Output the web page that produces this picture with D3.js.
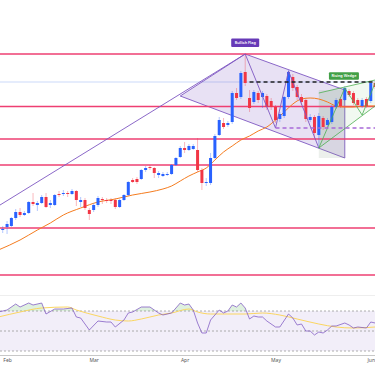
<!DOCTYPE html>
<html>
<head>
<meta charset="utf-8">
<script src="https://cdn.jsdelivr.net/npm/d3@7/dist/d3.min.js"></script>
<style>
  html, body { margin: 0; padding: 0; background: #fff; overflow: hidden; }
  text { font-family: "Noto Sans", Roboto, sans-serif; }
</style>
</head>
<body>
<svg id="chart" width="375" height="366"></svg>
<script>
// month ticks (candle index where each month starts)
const months = ["Feb", "Mar", "Apr", "May", "Jun"];
const monthIdx = [2, 22, 43, 64, 86];

// daily candles: [open, high, low, close]
const ohlc = [
  [62, 74, 60, 72], [70, 74, 67, 71], [73, 79, 66, 76], [74, 83, 73, 82], [82, 91, 80, 88],
  [88, 92, 83, 85], [85, 89, 84, 87], [87, 99, 86, 98], [98, 107, 94, 96], [95, 99, 89, 97],
  [97, 105, 96, 103], [103, 107, 92, 93], [95, 100, 92, 97], [95, 106, 94, 105], [106, 109, 103, 105],
  [106, 110, 104, 107], [107, 109, 103, 106], [106, 111, 105, 109], [109, 110, 94, 100], [98, 103, 93, 100],
  [100, 102, 90, 92], [90, 92, 80, 86], [90, 97, 88, 95], [95, 104, 93, 102], [101, 103, 96, 100],
  [100, 102, 97, 99], [100, 102, 96, 99], [100, 102, 91, 93], [93, 101, 92, 100], [100, 106, 99, 105],
  [105, 119, 104, 118], [120, 122, 117, 118], [121, 123, 116, 118], [121, 131, 120, 130], [130, 134, 128, 132],
  [133, 135, 130, 132], [132, 133, 122, 127], [125, 129, 122, 127], [124, 128, 123, 126], [125, 128, 124, 126],
  [126, 136, 125, 135], [135, 143, 134, 142], [143, 154, 142, 152], [152, 158, 147, 150], [150, 156, 149, 154],
  [151, 156, 150, 154], [150, 162, 128, 130], [130, 132, 110, 117], [117, 122, 114, 118], [117, 147, 115, 142],
  [142, 166, 141, 164], [165, 183, 164, 180], [177, 182, 171, 173], [175, 179, 173, 177], [178, 209, 176, 207],
  [207, 212, 200, 202], [203, 229, 201, 227], [228, 246, 214, 217], [202, 210, 188, 192], [198, 210, 196, 208],
  [207, 209, 197, 200], [203, 209, 192, 207], [204, 206, 190, 193], [199, 202, 190, 193], [193, 195, 177, 180],
  [181, 188, 178, 186], [184, 204, 182, 203], [203, 230, 201, 228], [223, 226, 209, 212], [213, 215, 200, 203],
  [203, 206, 195, 198], [200, 202, 178, 181], [180, 186, 178, 183], [183, 185, 162, 167], [165, 187, 154, 184],
  [182, 184, 170, 173], [175, 182, 172, 180], [178, 195, 176, 193], [193, 202, 191, 200], [201, 203, 192, 194],
  [200, 214, 199, 212], [209, 211, 203, 205], [207, 209, 195, 197], [200, 202, 192, 195], [194, 202, 192, 200],
  [201, 203, 192, 194], [199, 219, 197, 217], [217, 219, 211, 213]
];

// moving average read at [candle index, value]
const maPts = [
  [0, 50], [5, 60], [9, 70], [12, 77], [15, 85], [19, 92], [23, 98], [27, 101], [31, 105], [35, 108],
  [38, 111], [40, 114], [42, 119], [44, 124], [46, 128], [48, 132], [50, 140], [52, 148], [54, 154],
  [56, 160], [58, 164], [60, 169], [62, 173], [64, 180], [66, 188], [68, 196], [70, 201], [72, 202],
  [74, 201], [76, 198], [78, 194], [80, 193], [82, 193], [84, 194], [87, 194]
];

const levels = [246, 193.5, 161, 135, 72, 25];
const lastPrice = 218;
const breakLine = [58, 218];
const supportLine = [64, 172];

const flagPole = [[0, 94], [57, 246]];
const flagHull = [[42, 204], [57, 246], [80, 210], [80, 142]];
const flagZig = [[57, 246], [64, 172], [67, 229], [74, 152]];

const wedgeUpper = [[74, 207], [87, 220]];
const wedgeLower = [[74, 152], [87, 194]];
const wedgeZig = [[74, 152], [80, 212], [84, 185], [87, 217]];
const wedgeBox = [74, 80, 142, 210];

// RSI and its average, [candle index, value]
const rsi = [
  [0, 69], [2, 71], [4, 77], [5, 74], [7, 78], [8, 76], [10, 78], [11, 67], [13, 72], [15, 72],
  [17, 73], [18, 64], [19, 63], [21, 51], [23, 60], [25, 59], [26, 59], [27, 54], [29, 61], [30, 68],
  [31, 69], [33, 74], [35, 74], [37, 68], [38, 66], [40, 68], [42, 78], [43, 76], [44, 77], [45, 71],
  [46, 58], [47, 48], [48, 48], [49, 61], [51, 71], [52, 68], [53, 70], [54, 76], [55, 74], [56, 78],
  [57, 73], [58, 62], [59, 65], [60, 64], [61, 64], [62, 60], [64, 54], [65, 54], [67, 67], [68, 63],
  [69, 56], [70, 57], [71, 50], [72, 50], [73, 46], [74, 49], [75, 48], [76, 51], [77, 55], [78, 55],
  [80, 58], [81, 56], [82, 53], [83, 54], [85, 53], [86, 59], [87, 58]
];
const rsiMa = [
  [0, 64], [5, 69], [10, 73], [16, 74], [18, 71], [23, 65], [27, 61], [30, 60], [33, 62], [37, 66],
  [40, 68], [44, 72], [46, 69], [49, 67], [53, 67], [57, 67], [61, 68], [65, 66], [69, 62], [74, 57],
  [78, 54], [82, 53], [87, 54]
];
const rsiBands = [70, 50, 30];

const W = 375, H = 366;
const svg = d3.select("#chart");

const x = d3.scaleLinear().domain([0, 87]).range([-1.6, 375.1]);
const y = d3.scaleLinear().domain([0, 300]).range([300, 0]);
const ry = d3.scaleLinear().domain([30, 70]).range([351, 311]);

const blue = "#2962ff", red = "#f23645", purple = "#7e57c2", green = "#4caf50";

svg.append("clipPath").attr("id", "mainClip")
  .append("rect").attr("x", 0).attr("y", 0).attr("width", W).attr("height", 295);
const main = svg.append("g").attr("clip-path", "url(#mainClip)");

const pt = d => [x(d[0]), y(d[1])];
const line = d3.line().x(d => x(d[0])).y(d => y(d[1]));

// last price line
main.append("line")
  .attr("x1", 0).attr("x2", W).attr("y1", y(lastPrice)).attr("y2", y(lastPrice))
  .attr("stroke", "#dce6fb").attr("stroke-width", 1.5);

// flag fill
main.append("polygon")
  .attr("points", flagHull.map(pt).join(" "))
  .attr("fill", purple).attr("fill-opacity", 0.18)
  .attr("stroke", purple).attr("stroke-width", 0.9);

// wedge fills
main.append("rect")
  .attr("x", x(wedgeBox[0])).attr("width", x(wedgeBox[1]) - x(wedgeBox[0]))
  .attr("y", y(wedgeBox[3])).attr("height", y(wedgeBox[2]) - y(wedgeBox[3]))
  .attr("fill", "#7d9a7d").attr("fill-opacity", 0.15);
main.append("polygon")
  .attr("points", wedgeUpper.concat(wedgeLower.slice().reverse()).map(pt).join(" "))
  .attr("fill", green).attr("fill-opacity", 0.08);

// horizontal levels
main.selectAll(".lvl").data(levels).join("line")
  .attr("x1", 0).attr("x2", W)
  .attr("y1", d => y(d)).attr("y2", d => y(d))
  .attr("stroke", "#ee3f72").attr("stroke-width", 1.6);

// moving average
main.append("path").datum(maPts)
  .attr("d", line.curve(d3.curveMonotoneX))
  .attr("fill", "none").attr("stroke", "#f57c1f").attr("stroke-width", 1);
line.curve(d3.curveLinear);

// candles
const cg = main.append("g");
ohlc.forEach((c, i) => {
  const col = c[3] >= c[0] ? blue : red;
  cg.append("line")
    .attr("x1", x(i)).attr("x2", x(i)).attr("y1", y(c[1])).attr("y2", y(c[2]))
    .attr("stroke", col).attr("stroke-opacity", 0.35).attr("stroke-width", 1);
  const top = y(Math.max(c[0], c[3])), bot = y(Math.min(c[0], c[3]));
  cg.append("rect")
    .attr("x", x(i) - 1.5).attr("width", 3)
    .attr("y", top).attr("height", Math.max(1, bot - top))
    .attr("fill", col);
});

// pattern lines
main.append("path").datum(flagPole).attr("d", line)
  .attr("fill", "none").attr("stroke", purple).attr("stroke-width", 0.9);
main.append("path").datum(flagZig).attr("d", line)
  .attr("fill", "none").attr("stroke", purple).attr("stroke-width", 0.9);
[wedgeUpper, wedgeLower, wedgeZig].forEach(p => {
  main.append("path").datum(p).attr("d", line)
    .attr("fill", "none").attr("stroke", green).attr("stroke-width", 0.8);
});

// dashed lines
main.append("line")
  .attr("x1", x(breakLine[0])).attr("x2", W).attr("y1", y(breakLine[1])).attr("y2", y(breakLine[1]))
  .attr("stroke", "#222").attr("stroke-width", 1.3).attr("stroke-dasharray", "4,3");
main.append("line")
  .attr("x1", x(supportLine[0])).attr("x2", W).attr("y1", y(supportLine[1])).attr("y2", y(supportLine[1]))
  .attr("stroke", "#a86ad8").attr("stroke-width", 1.3).attr("stroke-dasharray", "4,3");

// labels
function tag(cx, cy, w, h, txt, fill, fs) {
  main.append("rect")
    .attr("x", cx - w / 2).attr("y", cy - h / 2).attr("width", w).attr("height", h)
    .attr("rx", 1).attr("fill", fill);
  main.append("text")
    .attr("x", cx).attr("y", cy).attr("dy", "0.35em")
    .attr("text-anchor", "middle").attr("fill", "#fff")
    .attr("font-size", fs).attr("font-weight", 600)
    .text(txt);
}
tag(x(57), y(257.3), 28, 8.5, "Bullish Flag", "#673ab7", 3.8);
tag(x(79.8), y(224), 30, 7.5, "Rising Wedge", "#43a047", 3.8);

// pane separator
svg.append("line").attr("x1", 0).attr("x2", W).attr("y1", 295.5).attr("y2", 295.5)
  .attr("stroke", "#eeeeee").attr("stroke-width", 1);

// RSI pane
svg.append("rect")
  .attr("x", 0).attr("width", W).attr("y", ry(70)).attr("height", ry(30) - ry(70))
  .attr("fill", purple).attr("fill-opacity", 0.1);
svg.selectAll(".band").data(rsiBands).join("line")
  .attr("x1", 0).attr("x2", W).attr("y1", d => ry(d)).attr("y2", d => ry(d))
  .attr("stroke", "#9a9a9a").attr("stroke-width", 0.8).attr("stroke-dasharray", "2,2");

svg.append("clipPath").attr("id", "obClip")
  .append("rect").attr("x", 0).attr("y", 290).attr("width", W).attr("height", ry(70) - 290);
svg.append("path").datum(rsi)
  .attr("clip-path", "url(#obClip)")
  .attr("d", d3.area().x(d => x(d[0])).y0(ry(70)).y1(d => ry(d[1])))
  .attr("fill", green).attr("fill-opacity", 0.18);

const rline = d3.line().x(d => x(d[0])).y(d => ry(d[1]));
svg.append("path").datum(rsiMa).attr("d", rline.curve(d3.curveMonotoneX))
  .attr("fill", "none").attr("stroke", "#fbd661").attr("stroke-width", 1);
svg.append("path").datum(rsi).attr("d", d3.line().x(d => x(d[0])).y(d => ry(d[1])))
  .attr("fill", "none").attr("stroke", purple).attr("stroke-opacity", 0.75).attr("stroke-width", 1);

// time axis
svg.append("line").attr("x1", 0).attr("x2", W).attr("y1", 355.5).attr("y2", 355.5)
  .attr("stroke", "#c8c8c8").attr("stroke-width", 1);
const ax = svg.append("g").attr("transform", "translate(0,356)")
  .call(d3.axisBottom(x).tickValues(monthIdx).tickSize(0).tickPadding(2)
    .tickFormat((d, i) => months[i]));
ax.select(".domain").remove();
ax.selectAll("text").attr("font-size", 5).attr("fill", "#555")
  .attr("font-family", "'Noto Sans', Roboto, sans-serif");
</script>
</body>
</html>
